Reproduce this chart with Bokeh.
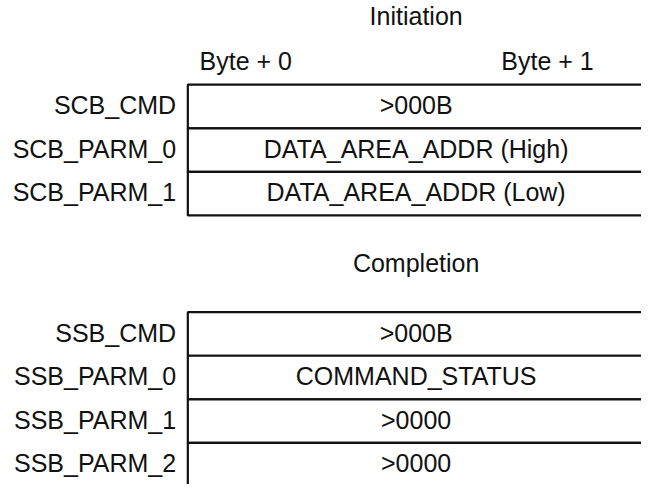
from bokeh.plotting import figure
from bokeh.models import Range1d, ColumnDataSource
from bokeh.core.properties import value
from bokeh.embed import file_html
from bokeh.resources import INLINE

# ---- content ----
titles = ["Initiation", "Completion"]
byte_labels = ["Byte + 0", "Byte + 1"]
init_labels = ["SCB_CMD", "SCB_PARM_0", "SCB_PARM_1"]
init_values = [">000B", "DATA_AREA_ADDR (High)", "DATA_AREA_ADDR (Low)"]
comp_labels = ["SSB_CMD", "SSB_PARM_0", "SSB_PARM_1", "SSB_PARM_2"]
comp_values = [">000B", "COMMAND_STATUS", ">0000", ">0000"]

# ---- layout (reference 657x500 space, drawn into a 641x484 figure) ----
W, H = 641, 484
REF_W, REF_H = 657, 500
ROW_H = 45
TABLE_L, TABLE_R = 192, 670
LABEL_X = 180
CENTER_X = 426
INIT_TOP = 87
COMP_TOP = 322
TEXT_DY = -1.5
FONT = "Liberation Sans"
FS = "25px"
INK = "#111111"

p = figure(width=W, height=H, output_backend="svg", toolbar_location=None,
           x_range=Range1d(0, REF_W), y_range=Range1d(REF_H, 0),
           min_border=0, outline_line_color=None)
p.axis.visible = False
p.grid.visible = False
p.background_fill_color = "white"
p.border_fill_color = "white"


def txt(xs, ys, texts, align):
    p.text(x=xs, y=[y + TEXT_DY for y in ys], text=texts, text_align=align,
           text_baseline="middle", text_font=value(FONT), text_font_size=FS,
           text_color=INK)


def table(top, labels, values):
    n = len(labels)
    tops = [top + i * ROW_H for i in range(n)]
    bottoms = [t + ROW_H for t in tops]
    mids = [t + ROW_H / 2 for t in tops]
    src = ColumnDataSource(dict(left=[TABLE_L] * n, right=[TABLE_R] * n,
                                top=tops, bottom=bottoms))
    p.quad(left="left", right="right", top="top", bottom="bottom", source=src,
           fill_color="white", line_color=INK, line_width=2.2)
    txt([LABEL_X] * n, mids, labels, "right")
    txt([CENTER_X] * n, mids, values, "center")


table(INIT_TOP, init_labels, init_values)
table(COMP_TOP, comp_labels, comp_values)

txt([CENTER_X, CENTER_X], [17, 273], titles, "center")
txt([204], [64], [byte_labels[0]], "left")
txt([608], [64], [byte_labels[1]], "right")

open("out.html", "w").write(file_html(p, INLINE))
